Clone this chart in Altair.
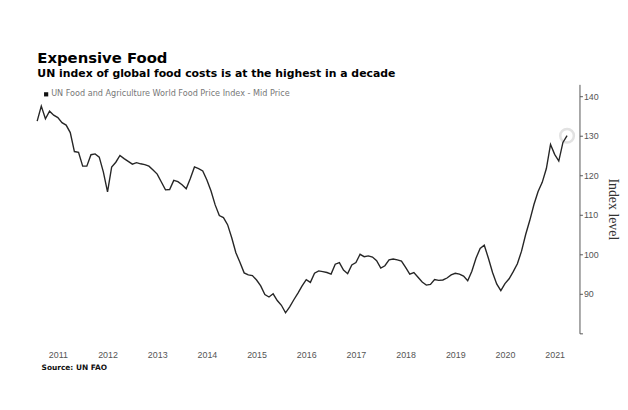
import altair as alt
import pandas as pd

# Monthly FAO Food Price Index, Jan 2011 - Sep 2021
v2011 = [133.7, 137.5, 134.3, 136.2, 135.2, 134.6, 133.3, 132.7, 130.8, 126.0, 125.8, 122.3]
v2012 = [122.3, 125.2, 125.4, 124.6, 120.8, 115.8, 122.1, 123.3, 125.0, 124.2, 123.5, 122.8]
v2013 = [123.2, 122.9, 122.7, 122.3, 121.3, 120.3, 118.3, 116.3, 116.4, 118.7, 118.4, 117.6]
v2014 = [116.6, 119.2, 122.1, 121.7, 121.1, 118.8, 116.0, 112.5, 109.8, 109.3, 107.5, 104.2]
v2015 = [100.4, 97.9, 95.3, 94.8, 94.6, 93.5, 92.0, 89.8, 89.2, 90.0, 88.3, 87.1]
v2016 = [85.2, 86.7, 88.5, 90.2, 92.0, 93.6, 92.9, 95.2, 95.8, 95.6, 95.4, 95.0]
v2017 = [97.5, 97.9, 96.0, 95.1, 97.3, 97.9, 100.0, 99.4, 99.6, 99.3, 98.4, 96.5]
v2018 = [97.1, 98.6, 98.8, 98.6, 98.3, 96.7, 95.0, 95.4, 94.2, 93.0, 92.2, 92.4]
v2019 = [93.6, 93.4, 93.5, 94.0, 94.8, 95.2, 95.0, 94.5, 93.3, 95.7, 99.0, 101.5]
v2020 = [102.3, 99.0, 95.4, 92.5, 90.8, 92.6, 93.8, 95.6, 97.6, 100.8, 105.0, 108.6]
v2021 = [112.6, 115.9, 118.2, 121.7, 127.8, 125.3, 123.6, 128.3, 130.0]

years = [2011, 2012, 2013, 2014, 2015, 2016, 2017, 2018, 2019, 2020, 2021]
y_ticks = [80, 90, 100, 110, 120, 130, 140]
series_name = "UN Food and Agriculture World Food Price Index - Mid Price"

values = v2011 + v2012 + v2013 + v2014 + v2015 + v2016 + v2017 + v2018 + v2019 + v2020 + v2021
# each monthly value is plotted at the end of its month (decimal year)
t = [2011 + (k + 1) / 12 for k in range(len(values))]
df = pd.DataFrame({"t": t, "value": values, "series": series_name})
last = df.tail(1)

x_scale = alt.Scale(domain=[2011.0833, 2022.0], nice=False, zero=False)
y_scale = alt.Scale(domain=[80, 143], nice=False, zero=False)

x_axis = alt.Axis(
    values=[y + 0.5 for y in years],
    labelExpr="floor(datum.value)",
    domain=False,
    ticks=False,
    grid=False,
    labelFont="Liberation Sans",
    labelFontSize=9,
    labelColor="#555",
    labelPadding=17,
    title="Source: UN FAO",
    titleFont="DejaVu Sans",
    titleFontSize=7.5,
    titleFontWeight="bold",
    titleColor="#111",
    titleAnchor="start",
    titleAlign="left",
    titleBaseline="alphabetic",
    titleX=4,
    titleY=37,
)

y_axis = alt.Axis(
    orient="right",
    values=y_ticks,
    labelExpr="datum.value == 80 ? '' : datum.value",
    grid=False,
    domainColor="#555",
    tickColor="#555",
    tickSize=3,
    labelFont="Liberation Sans",
    labelFontSize=9,
    labelColor="#555",
    labelPadding=1,
    title="Index level",
    titleFont="Liberation Serif",
    titleFontSize=14,
    titleFontWeight="normal",
    titleColor="#333",
    titleAngle=90,
    titlePadding=7,
)

line = alt.Chart(df).mark_line(strokeWidth=1.4).encode(
    x=alt.X("t:Q", scale=x_scale, axis=x_axis),
    y=alt.Y("value:Q", scale=y_scale, axis=y_axis),
    color=alt.Color(
        "series:N",
        scale=alt.Scale(range=["#262626"]),
        legend=alt.Legend(
            orient="none",
            legendX=5,
            legendY=6,
            title=None,
            symbolType="square",
            symbolSize=18,
            symbolFillColor="#111",
            symbolStrokeColor="#111",
            symbolStrokeWidth=0,
            labelFont="DejaVu Sans",
            labelFontSize=8.2,
            labelColor="#777",
            labelOffset=1,
            labelLimit=0,
            padding=0,
        ),
    ),
)

ring = alt.Chart(last).mark_point(
    size=190, filled=False, stroke="#d6d6d6", strokeWidth=2.5
).encode(
    x=alt.X("t:Q", scale=x_scale, axis=x_axis),
    y=alt.Y("value:Q", scale=y_scale, axis=y_axis),
)

chart = (
    alt.layer(ring, line)
    .properties(
        width=548.9,
        height=252,
        autosize=alt.AutoSizeParams(type="none"),
        padding={"left": 29.5, "top": 75, "right": 41, "bottom": 50},
        background="white",
        title=alt.TitleParams(
            text="Expensive Food",
            subtitle="UN index of global food costs is at the highest in a decade",
            anchor="start",
            dx=3,
            font="DejaVu Sans",
            fontSize=15,
            fontWeight="bold",
            color="#000",
            subtitleFont="DejaVu Sans",
            subtitleFontSize=11,
            subtitleFontWeight="bold",
            subtitleColor="#000",
            subtitlePadding=3,
            offset=5,
        ),
    )
    .configure_view(stroke=None)
)

chart.save("out.html", embed_options={"renderer": "svg", "actions": False})
